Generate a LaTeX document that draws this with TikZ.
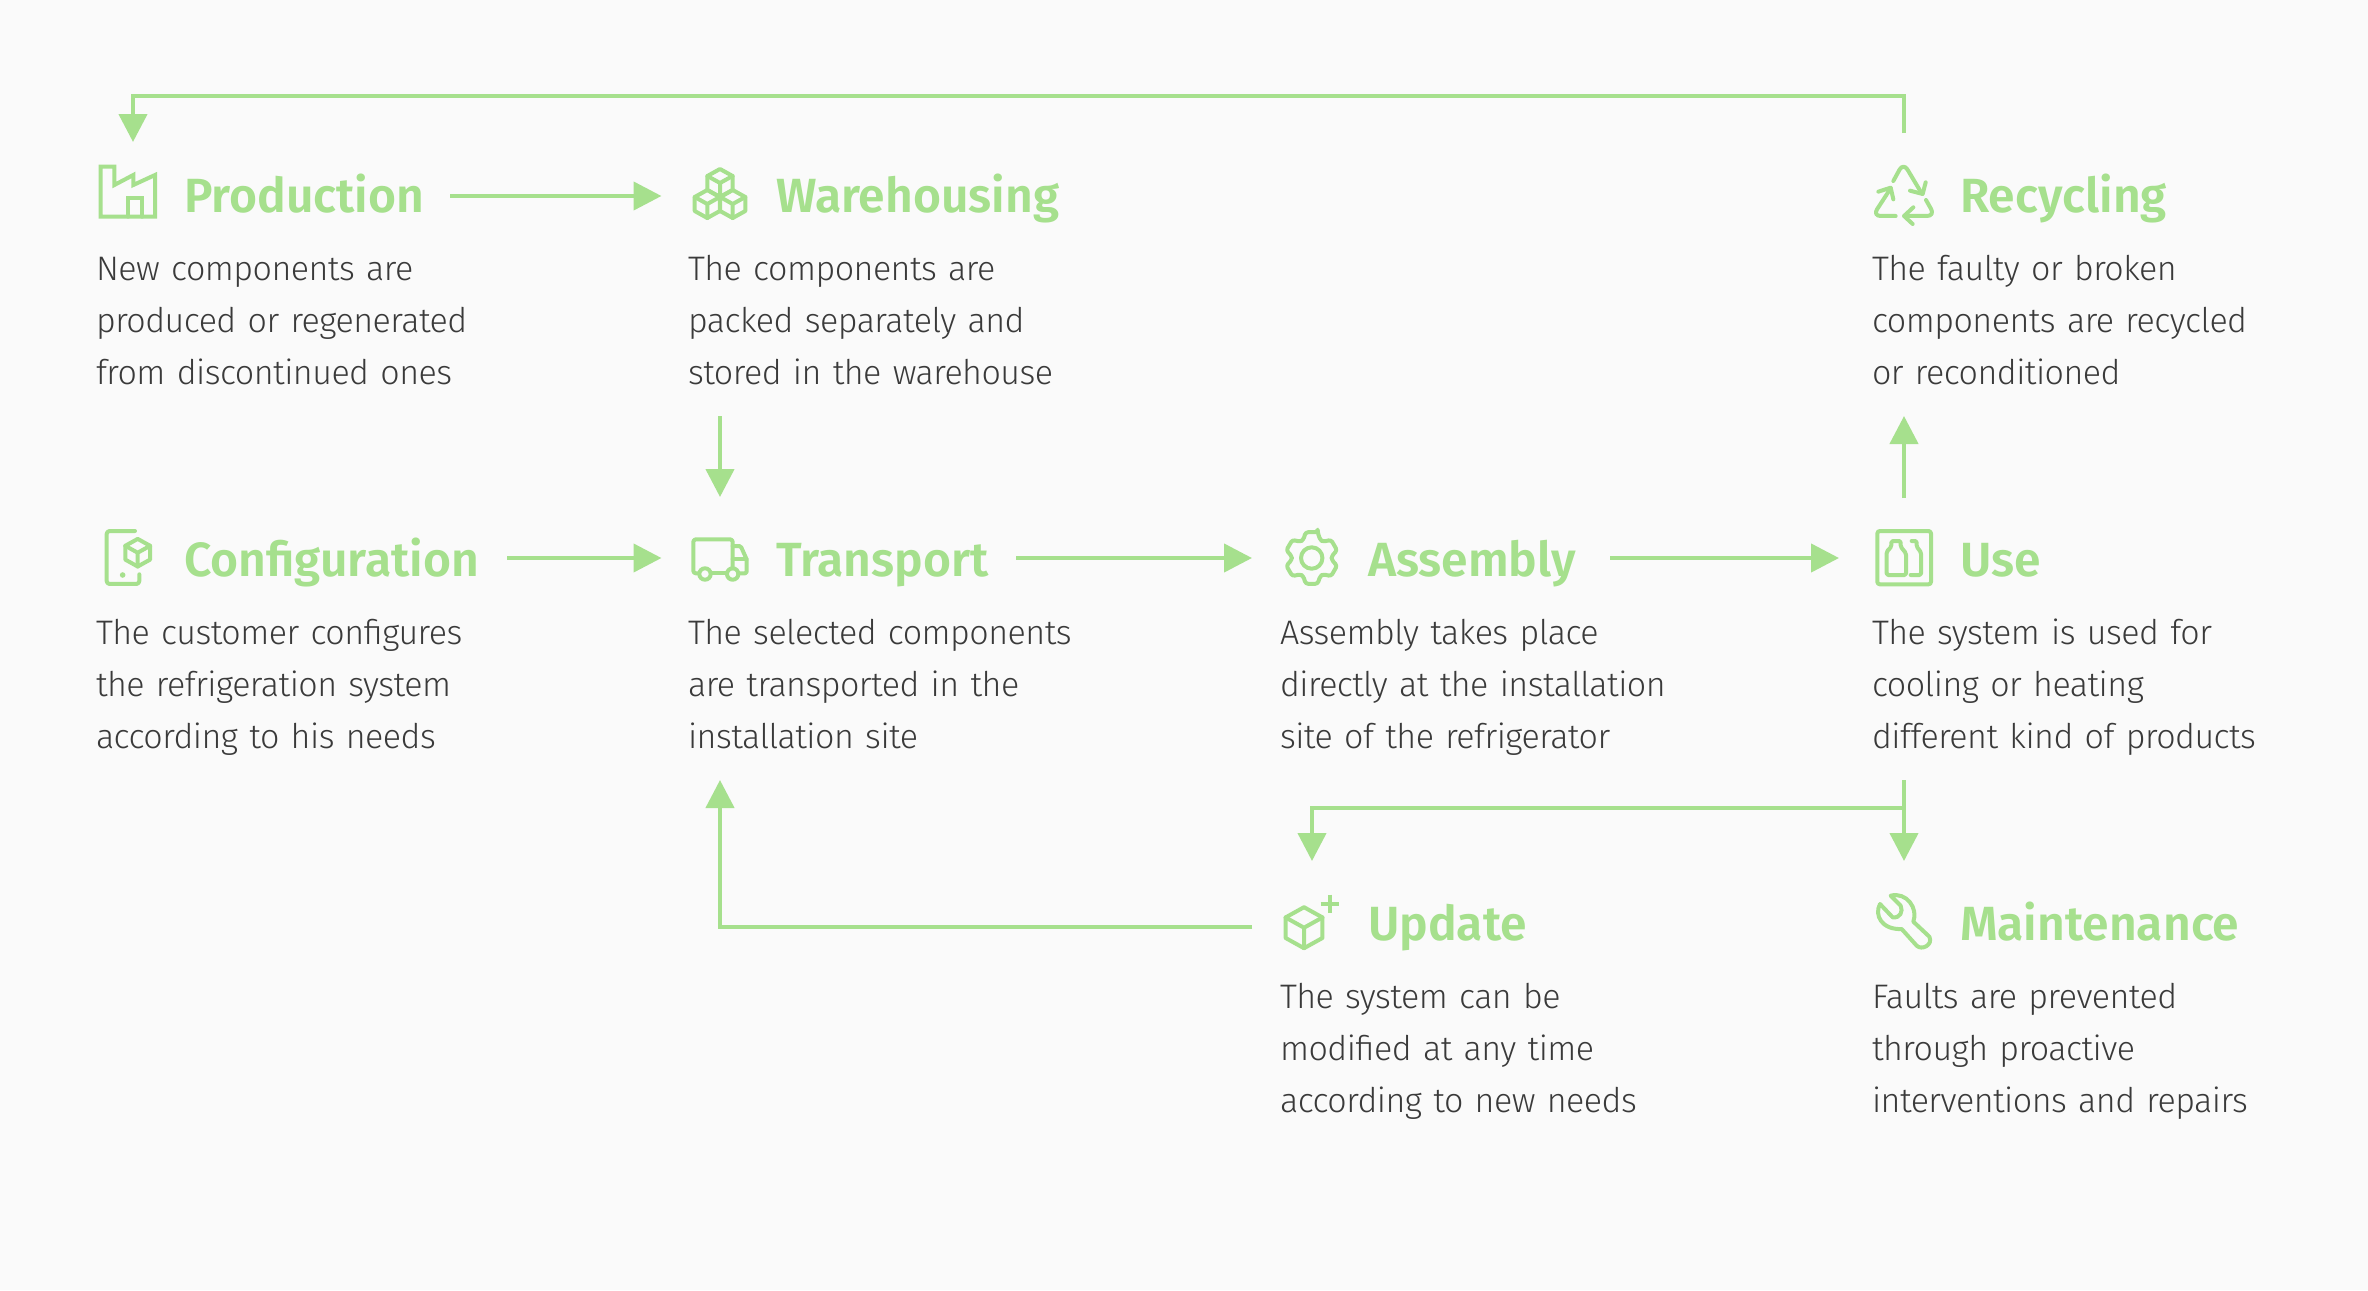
\documentclass[tikz,border=0pt]{standalone}
\usepackage{fontspec}
\usetikzlibrary{arrows.meta,calc}
\newfontfamily\bodyf{Fira Sans}[UprightFont=* Light,LetterSpace=-1.5]
\newfontfamily\titlef{Fira Sans}[UprightFont=* SemiBold]
\definecolor{leaf}{HTML}{A6E08D}
\definecolor{ink}{HTML}{3A3A3A}
\definecolor{paper}{HTML}{FAFAFA}
\tikzset{
  flow/.style={draw=leaf,line width=4.3pt,-{Triangle[length=28pt,width=28pt]}},
  iconbox/.style={minimum size=120pt,inner sep=0pt,outer sep=0pt},
  title/.style={font=\titlef\fontsize{48}{52}\selectfont,text=leaf,anchor=base west,inner sep=0pt,outer sep=0pt,align=left},
  body/.style={font=\bodyf\fontsize{34}{52}\selectfont,text=ink,anchor=north west,inner sep=0pt,outer sep=0pt,align=left,text width=440pt},
  ic/.style={draw=leaf,line width=4pt,line join=round,line cap=round,fill=none},
  izoom/.style={x=0.3333pt,y=-0.3333pt},
  pics/cube/.style n args={3}{code={
    \draw[ic] (#1,#2-#3) -- (#1+0.9*#3,#2-0.5*#3) -- (#1+0.9*#3,#2+0.5*#3) -- (#1,#2+#3) -- (#1-0.9*#3,#2+0.5*#3) -- (#1-0.9*#3,#2-0.5*#3) -- cycle;
    \draw[ic] (#1-0.9*#3,#2-0.5*#3) -- (#1,#2) -- (#1+0.9*#3,#2-0.5*#3) (#1,#2) -- (#1,#2+#3);
  }}
}
\newcommand{\lstrut}{\strut}
\begin{document}
\begin{tikzpicture}[x=1pt,y=-1pt]
\useasboundingbox[fill=paper] (0,0) rectangle (2368,1290);

% icon anchors
\node[iconbox] (prodI)  at (133,196)  {};
\node[iconbox] (wareI)  at (720,196)  {};
\node[iconbox] (recI)   at (1904,196) {};
\node[iconbox] (confI)  at (130,558)  {};
\node[iconbox] (transI) at (720,558)  {};
\node[iconbox] (asmI)   at (1312,558) {};
\node[iconbox] (useI)   at (1904,558) {};
\node[iconbox] (updI)   at (1312,927) {};
\node[iconbox] (mainI)  at (1904,927) {};

% titles
\node[title,text width=266pt] (prodT)  at (184,212.5)  {Production};
\node[title,text width=300pt] (wareT)  at (776,212.5)  {Warehousing};
\node[title,text width=300pt] (recT)   at (1960,212.5) {Recycling};
\node[title,text width=323pt] (confT)  at (184,576.5)  {Configuration};
\node[title,text width=240pt] (transT) at (776,576.5)  {Transport};
\node[title,text width=242pt] (asmT)   at (1368,576.5) {Assembly};
\node[title,text width=300pt] (useT)   at (1960,576.5) {Use};
\node[title,text width=300pt] (updT)   at (1368,940.5) {Update};
\node[title,text width=300pt] (mainT)  at (1960,940.5) {Maintenance};

% bodies
\node[body] (prodB)  at (96,244)   {\lstrut New components are\\ produced or regenerated\\ from discontinued ones\lstrut};
\node[body] (wareB)  at (688,244)  {\lstrut The components are\\ packed separately and\\ stored in the warehouse\lstrut};
\node[body] (recB)   at (1872,244) {\lstrut The faulty or broken\\ components are recycled\\ or reconditioned\lstrut};
\node[body] (confB)  at (96,608)   {\lstrut The customer configures\\ the refrigeration system\\ according to his needs\lstrut};
\node[body] (transB) at (688,608)  {\lstrut The selected components\\ are transported in the\\ installation site\lstrut};
\node[body] (asmB)   at (1280,608) {\lstrut Assembly takes place\\ directly at the installation\\ site of the refrigerator\lstrut};
\node[body] (useB)   at (1872,608) {\lstrut The system is used for\\ cooling or heating\\ different kind of products\lstrut};
\node[body] (updB)   at (1280,972) {\lstrut The system can be\\ modified at any time\\ according to new needs\lstrut};
\node[body] (mainB)  at (1872,972) {\lstrut Faults are prevented\\ through proactive\\ interventions and repairs\lstrut};

% connectors
\coordinate (topbus) at (1000,96);
\coordinate (branch) at (1600,808);
\draw[flow,shorten <=3pt,shorten >=-6pt] (recI.north) |- (topbus) -| (prodI.north);
\draw[flow,shorten >=-1.5pt] (prodT.east |- prodI.center) -- (wareI.west);
\draw[flow,shorten <=16pt,shorten >=1pt] (wareB.south -| wareI.center) -- (transI.north);
\draw[flow,shorten >=-1.5pt] (confT.east |- confI.center) -- (transI.west);
\draw[flow] (transT.east |- transI.center) -- (asmI.west);
\draw[flow,shorten >=5pt] (asmT.east |- asmI.center) -- (useI.west);
\draw[flow,shorten >=16pt] (useI.north) -- (recB.south -| recI.center);
\draw[flow,shorten <=16pt,shorten >=6pt] (useB.south -| useI.center) -- (mainI.north);
\draw[draw=leaf,line width=4.3pt] (useI.center |- branch) -- (branch);
\draw[flow,shorten >=6pt] (branch) -| (updI.north);
\draw[flow,shorten >=16pt] (updI.west) -| (transI.center |- transB.south);

% Production icon
\begin{scope}[shift={(80,70)},x=0.395pt,y=-0.3333pt]
  \draw[ic,line join=miter] (52,440) -- (52,290) -- (87,290) -- (87,345) -- (135,315) -- (135,345) -- (190,315) -- (190,440) -- cycle;
  \draw[ic,line join=miter] (122,440) -- (122,383) -- (158,383) -- (158,440);
\end{scope}
% Warehousing icon
\pic at (0,0) {cube={720}{183}{14}};
\pic at (0,0) {cube={707.3}{204}{14}};
\pic at (0,0) {cube={732.7}{204}{14}};
% Recycling icon
\begin{scope}[shift={(1850,150)},izoom]
  \draw[ic,rounded corners=8pt] (130,93) -- (160,38) -- (215,130);
  \draw[ic] (180,122) -- (218,132) -- (227,97);
  \draw[ic,rounded corners=8pt] (228,150) -- (255,198) -- (165,198);
  \draw[ic] (190,172) -- (162,198) -- (188,222);
  \draw[ic,rounded corners=8pt] (137,198) -- (68,198) -- (122,115);
  \draw[ic] (85,125) -- (122,113) -- (130,148);
\end{scope}
% Configuration icon
\begin{scope}[shift={(90,515)},izoom]
  \draw[ic,rounded corners=3pt] (135,48) -- (50,48) -- (50,207) -- (148,207) -- (148,178);
  \fill[leaf] (98,180) circle (2.8pt);
\end{scope}
\pic at (0,0) {cube={137.7}{552.7}{13.8}};
% Transport icon
\begin{scope}[shift={(680,520)},izoom]
  \draw[ic,rounded corners=2.5pt] (55,160) -- (40,160) -- (40,58) -- (158,58) -- (158,145);
  \draw[ic] (92,160) -- (140,160);
  \draw[ic] (75,162) circle (5.7pt);
  \draw[ic] (158,162) circle (5.7pt);
  \draw[ic,rounded corners=1.5pt] (175,160) -- (200,160) -- (200,118) -- (182,78) -- (158,78);
  \draw[ic] (158,118) -- (200,118);
\end{scope}
% Assembly icon (gear)
\begin{scope}[shift={(1311.7,558)}]
  \draw[ic,rounded corners=2.5pt]
    (90-13:26.5pt) \foreach \a in {90,150,...,390} { -- (\a+13:26.5pt) -- (\a+25:20pt) -- (\a+35:20pt) -- (\a+47:26.5pt) } -- cycle;
  \draw[ic] (0,0) circle (10.7pt);
\end{scope}
% Use icon
\begin{scope}[shift={(1850,515)},izoom]
  \draw[ic,rounded corners=2.5pt] (82,48) rectangle (243,208);
  \draw[ic,rounded corners=1.5pt] (110,180) -- (110,110) -- (124,95) -- (124,78) -- (152,78) -- (152,95) -- (168,115) -- (168,180) -- cycle;
  \draw[ic,rounded corners=1.5pt] (185,78) -- (200,78) -- (200,95) -- (213,112) -- (213,180) -- (182,180);
\end{scope}
% Update icon
\pic at (0,0) {cube={1304}{927.7}{20.5}};
\begin{scope}[shift={(1260,880)},izoom]
  \draw[ic,line cap=butt] (182,72) -- (238,72) (210,44) -- (210,100);
\end{scope}
% Maintenance icon
\begin{scope}[shift={(1850,880)},izoom]
  \draw[ic] (122,47) -- (152,77) .. controls (160,95) and (150,115) .. (128,112) -- (90,72) .. controls (72,105) and (95,150) .. (155,147) -- (200,197) .. controls (215,212) and (250,195) .. (238,170) -- (190,125) .. controls (205,85) and (170,35) .. cycle;
\end{scope}
\end{tikzpicture}
\end{document}
